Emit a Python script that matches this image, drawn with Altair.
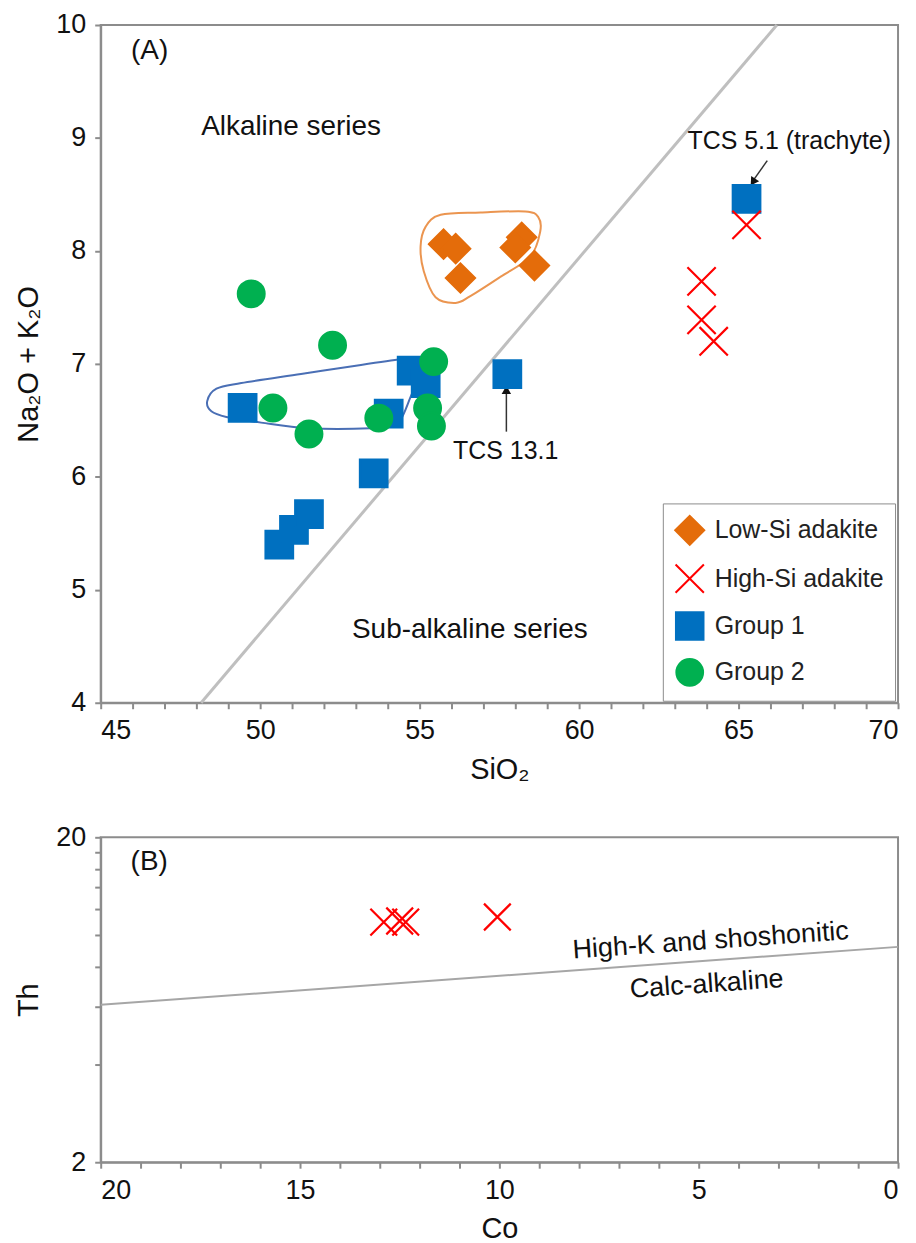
import altair as alt
import pandas as pd

FONT = "Liberation Sans"
AX = "#8c8c8c"
LINE = "#bfbfbf"

# ---------------- Panel A data ----------------
cats = ["Low-Si adakite", "High-Si adakite", "Group 1", "Group 2"]
colors = ["#E46C0A", "#FF0000", "#0070C0", "#00B050"]
fills = ["#E46C0A", "transparent", "#0070C0", "#00B050"]
shapes = ["diamond", "M-1,-1L1,1M-1,1L1,-1", "square", "circle"]
sizes = [850, 720, 500, 580]

g1_sio2 = [49.45, 50.6, 51.06, 51.53, 53.56, 54.03, 54.75, 55.19, 57.75, 65.25]
g1_alk = [6.61, 5.40, 5.53, 5.67, 6.03, 6.56, 6.94, 6.83, 6.91, 8.46]
g2_sio2 = [49.72, 52.27, 55.44, 50.4, 51.53, 53.72, 55.25, 55.37]
g2_alk = [7.62, 7.165, 7.02, 6.61, 6.38, 6.52, 6.61, 6.45]
lowsi_sio2 = [55.75, 56.13, 56.28, 58.2, 58.0, 58.6]
lowsi_alk = [8.06, 8.02, 7.76, 8.12, 8.03, 7.87]
highsi_sio2 = [65.25, 63.84, 63.84, 64.22]
highsi_alk = [8.23, 7.73, 7.39, 7.20]

boundary_sio2 = [48.15, 66.2]
boundary_alk = [4.0, 10.0]

blue_env_sio2 = [48.34, 48.63, 49.41, 51.28, 53.16, 54.41, 54.88, 55.09, 55.03, 54.72,
                 54.41, 54.09, 53.47, 51.5, 50.03, 48.94, 48.47]
blue_env_alk = [6.67, 6.78, 6.83, 6.91, 6.99, 7.04, 7.05, 7.01, 6.92, 6.71,
                6.51, 6.46, 6.43, 6.43, 6.48, 6.53, 6.58]
orange_env_sio2 = [55.19, 55.66, 56.91, 58.31, 58.72, 58.78, 58.47, 57.53, 56.59, 56.13, 55.5, 55.13, 55.03]
orange_env_alk = [8.215, 8.32, 8.34, 8.35, 8.30, 8.17, 7.95, 7.77, 7.60, 7.54, 7.59, 7.82, 8.04]

# ---------------- Panel B data ----------------
b_co = [12.9, 12.5, 12.35, 10.05]
b_th = [10.97, 11.05, 10.97, 11.37]
b_line_co = [20, 0]
b_line_th = [6.1, 9.2]

# ---------------- frames ----------------
rows = []
for s, a in zip(g1_sio2, g1_alk):
    rows.append({"SiO2": s, "Alk": a, "Series": "Group 1"})
for s, a in zip(g2_sio2, g2_alk):
    rows.append({"SiO2": s, "Alk": a, "Series": "Group 2"})
for s, a in zip(lowsi_sio2, lowsi_alk):
    rows.append({"SiO2": s, "Alk": a, "Series": "Low-Si adakite"})
for s, a in zip(highsi_sio2, highsi_alk):
    rows.append({"SiO2": s, "Alk": a, "Series": "High-Si adakite"})
pts = pd.DataFrame(rows)
pts["ord"] = range(len(pts))

xs = alt.Scale(domain=[45, 70], nice=False, zero=False)
ys = alt.Scale(domain=[4, 10], nice=False, zero=False)
xaxis = alt.Axis(values=list(range(45, 71)),
                 labelExpr="datum.value % 5 == 0 ? datum.label : ''",
                 grid=False, title="SiO₂")
yaxis = alt.Axis(values=list(range(4, 11)), grid=False, title="Na₂O + K₂O")


def X(f="SiO2"):
    return alt.X(f"{f}:Q", scale=xs, axis=xaxis, title="SiO₂")


def Y(f="Alk"):
    return alt.Y(f"{f}:Q", scale=ys, axis=yaxis, title="Na₂O + K₂O")


leg = alt.Legend(title=None, orient="none", legendX=564, legendY=480,
                 fillColor="white", strokeColor=AX, padding=11,
                 labelFontSize=25, labelFont=FONT, labelColor="#222", labelLimit=400,
                 rowPadding=11, symbolStrokeWidth=2, labelOffset=9)

points = alt.Chart(pts).mark_point(opacity=1, strokeWidth=2.2).encode(
    x=X(), y=Y(),
    shape=alt.Shape("Series:N", scale=alt.Scale(domain=cats, range=shapes), legend=leg),
    stroke=alt.Stroke("Series:N", scale=alt.Scale(domain=cats, range=colors), legend=leg),
    fill=alt.Fill("Series:N", scale=alt.Scale(domain=cats, range=fills), legend=leg),
    size=alt.Size("Series:N", scale=alt.Scale(domain=cats, range=sizes), legend=leg),
    order=alt.Order("ord:Q"),
)

bdf = pd.DataFrame({"SiO2": boundary_sio2, "Alk": boundary_alk})
boundary = alt.Chart(bdf).mark_line(color=LINE, strokeWidth=3).encode(x=X(), y=Y())

env_rows = []
for i, (s, a) in enumerate(zip(blue_env_sio2, blue_env_alk)):
    env_rows.append({"SiO2": s, "Alk": a, "env": "blue", "o": i})
for i, (s, a) in enumerate(zip(orange_env_sio2, orange_env_alk)):
    env_rows.append({"SiO2": s, "Alk": a, "env": "orange", "o": i})
env = pd.DataFrame(env_rows)
envs = alt.Chart(env).mark_line(interpolate="cardinal-closed", strokeWidth=2).encode(
    x=X(), y=Y(), detail="env:N", order="o:Q",
    color=alt.Color("env:N", scale=alt.Scale(domain=["blue", "orange"], range=["#4a6fb5", "#EB9550"]), legend=None),
)

# annotations panel A
ann_big = pd.DataFrame({
    "SiO2": [45.95, 48.15, 52.88],
    "Alk": [9.77, 9.1, 4.64],
    "txt": ["(A)", "Alkaline series", "Sub-alkaline series"],
})
texts_big = alt.Chart(ann_big).mark_text(align="left", baseline="middle", fontSize=28,
                                         font=FONT, color="#111").encode(x=X(), y=Y(), text="txt:N")
ann_small = pd.DataFrame({
    "SiO2": [63.4, 56.05],
    "Alk": [8.97, 6.23],
    "txt": ["TCS 5.1 (trachyte)", "TCS 13.1"],
})
texts_small = alt.Chart(ann_small).mark_text(align="left", baseline="middle", fontSize=25,
                                             font=FONT, color="#111").encode(x=X(), y=Y(), text="txt:N")

arrows = pd.DataFrame({"SiO2": [57.72, 65.9], "Alk": [6.40, 8.80],
                       "SiO2b": [57.72, 65.45], "Alkb": [6.76, 8.62]})
arrow_lines = alt.Chart(arrows).mark_rule(color="#333", strokeWidth=1.5).encode(
    x=X(), y=Y(), x2="SiO2b:Q", y2="Alkb:Q")
heads = pd.DataFrame({"SiO2": [57.72, 65.45], "Alk": [6.77, 8.61], "ang": [0, 213]})
arrow_heads = alt.Chart(heads).mark_point(shape="triangle-up", filled=True, color="#111",
                                          size=90, opacity=1).encode(
    x=X(), y=Y(), angle=alt.Angle("ang:Q", scale=None))

top = alt.layer(boundary, envs, arrow_lines, arrow_heads, points, texts_big, texts_small).properties(
    width=800, height=680)

# ---------------- Panel B ----------------
bxs = alt.Scale(domain=[20, 0], nice=False, zero=False)
bys = alt.Scale(type="log", domain=[2, 20], nice=False)
bxaxis = alt.Axis(values=list(range(0, 21)),
                  labelExpr="datum.value % 5 == 0 ? datum.label : ''",
                  grid=False, title="Co")
byaxis = alt.Axis(values=[2, 4, 6, 8, 10, 12, 14, 16, 18, 20],
                  labelExpr="(datum.value == 2 || datum.value == 20) ? datum.label : ''",
                  grid=False, title="Th")


def BX(f="Co"):
    return alt.X(f"{f}:Q", scale=bxs, axis=bxaxis, title="Co")


def BY(f="Th"):
    return alt.Y(f"{f}:Q", scale=bys, axis=byaxis, title="Th")


bpts = pd.DataFrame({"Co": b_co, "Th": b_th})
bpoints = alt.Chart(bpts).mark_point(shape="M-1,-1L1,1M-1,1L1,-1", size=720, color="#FF0000",
                                     strokeWidth=2.2, opacity=1).encode(x=BX(), y=BY())
bline = alt.Chart(pd.DataFrame({"Co": b_line_co, "Th": b_line_th})).mark_line(
    color="#a6a6a6", strokeWidth=2).encode(x=BX(), y=BY())

b_text = pd.DataFrame({"Co": [19.25], "Th": [16.8], "txt": ["(B)"]})
btext = alt.Chart(b_text).mark_text(align="left", baseline="middle", fontSize=28,
                                    font=FONT, color="#111").encode(x=BX(), y=BY(), text="txt:N")
b_rot = pd.DataFrame({"Co": [4.7, 4.8], "Th": [9.6, 7.05],
                      "txt": ["High-K and shoshonitic", "Calc-alkaline"]})
brot = alt.Chart(b_rot).mark_text(align="center", baseline="middle", fontSize=27, angle=356,
                                  font=FONT, color="#111").encode(x=BX(), y=BY(), text="txt:N")

bottom = alt.layer(bline, bpoints, btext, brot).properties(width=800, height=326)

chart = alt.vconcat(top, bottom, spacing=37).properties(
    padding={"left": 5, "top": 0, "right": 5, "bottom": 0}
).configure_view(stroke=AX, strokeWidth=2).configure_axis(
    domainColor=AX, domainWidth=2, tickColor=AX, tickWidth=2, tickSize=6,
    labelFont=FONT, labelFontSize=27, labelColor="#111", labelPadding=9,
    titleFont=FONT, titleFontSize=29, titleColor="#111", titleFontWeight="normal",
    titlePadding=12,
).configure_legend(symbolStrokeWidth=2)

chart.save("out.html", embed_options={"renderer": "svg", "actions": False})
